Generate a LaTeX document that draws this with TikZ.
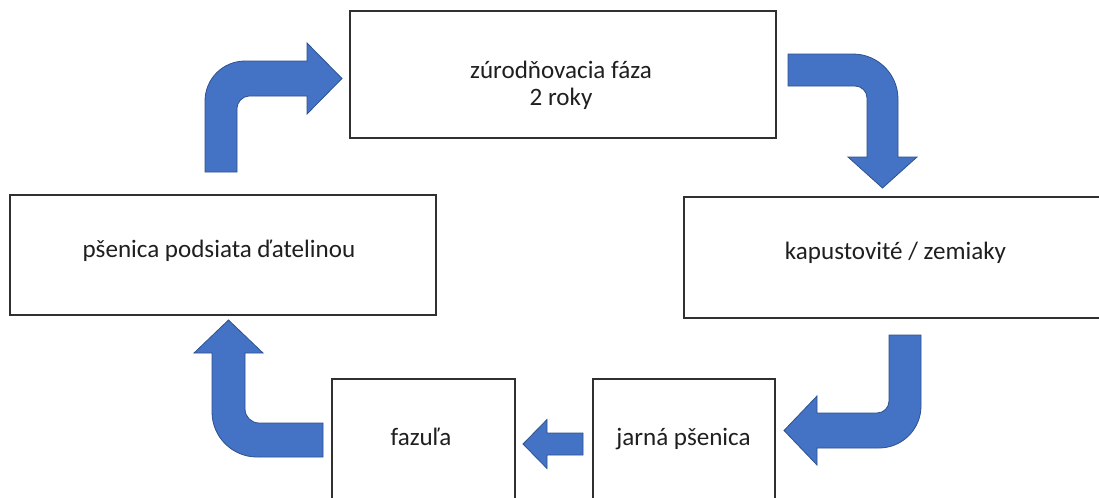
\documentclass[tikz,border=0pt]{standalone}
\usepackage{fontspec}
\setmainfont{Carlito}
\definecolor{arrowblue}{HTML}{4472C4}
\definecolor{arrowedge}{HTML}{2F528F}
\definecolor{frame}{HTML}{303030}
\begin{document}
\begin{tikzpicture}[x=0.75pt,y=-0.75pt,
  box/.style={draw=frame,line width=0.8pt,inner sep=0pt,fill=white},
  lbl/.style={anchor=base,inner sep=0pt,font=\fontsize{18.8}{19.8}\selectfont,text=black!88,align=center},
  barrow/.style={fill=arrowblue,draw=arrowedge,line width=0.6pt,line join=miter}]
\useasboundingbox (0,0) rectangle (1099,497);
\clip (0,0) rectangle (1099,497);
\fill[white] (0,0) rectangle (1099,497);

% boxes
\node[box,minimum width=426*0.75pt,minimum height=127*0.75pt] (top) at (563,74.5) {};
\node[box,minimum width=426*0.75pt,minimum height=120*0.75pt] (left) at (223,255) {};
\node[box,minimum width=426*0.75pt,minimum height=121*0.75pt] (right) at (897,257.5) {};
\node[box,minimum width=183*0.75pt,minimum height=140*0.75pt] (faz) at (423.5,449) {};
\node[box,minimum width=182*0.75pt,minimum height=140*0.75pt] (jar) at (684,449) {};

% labels
\node[lbl] (topT) at (561,105) {zúrodňovacia fáza\\2 roky};
\node[lbl] (leftT) at (219,257) {pšenica podsiata ďatelinou};
\node[lbl] (rightT) at (895.5,259) {kapustovité / zemiaky};
\node[lbl] (fazT) at (421,445) {fazuľa};
\node[lbl] (jarT) at (683.5,445) {jarná pšenica};

% bent arrow: left box -> top box
\draw[barrow] (205,172) -- (205,101)
  .. controls (205,78.9) and (222.9,61) .. (245,61)
  -- (307,61) -- (307,43) -- (342,78.5) -- (307,114) -- (307,96) -- (249,96)
  .. controls (242.4,96) and (237,102.6) .. (237,108) -- (237,172) -- cycle;

% bent arrow: top box -> right box
\draw[barrow] (788,54) -- (853,54)
  .. controls (877.8,54) and (898,74.2) .. (898,99)
  -- (898,157) -- (917,157) -- (882.5,188) -- (848,157) -- (867,157) -- (867,98)
  .. controls (867,91.4) and (861.6,86) .. (855,86) -- (788,86) -- cycle;

% bent arrow: right box -> jarna psenica
\draw[barrow] (889,335) -- (921,335) -- (921,406)
  .. controls (921,429.2) and (902.2,448) .. (879,448)
  -- (817,448) -- (817,465) -- (784,430.5) -- (817,396) -- (817,413) -- (877,413)
  .. controls (883.6,413) and (889,407.6) .. (889,401) -- cycle;

% straight arrow: jarna psenica -> fazula
\draw[barrow] (583,433) -- (547,433) -- (547,419.5) -- (523,444) -- (547,468.5) -- (547,455) -- (583,455) -- cycle;

% bent arrow: fazula -> left box
\draw[barrow] (323,423) -- (259,423)
  .. controls (251.3,423) and (245,416.7) .. (245,409)
  -- (245,353) -- (263,353) -- (228.5,320) -- (194,353) -- (212,353) -- (212,412)
  .. controls (212,436.8) and (232.2,457) .. (257,457) -- (323,457) -- cycle;
\end{tikzpicture}
\end{document}
